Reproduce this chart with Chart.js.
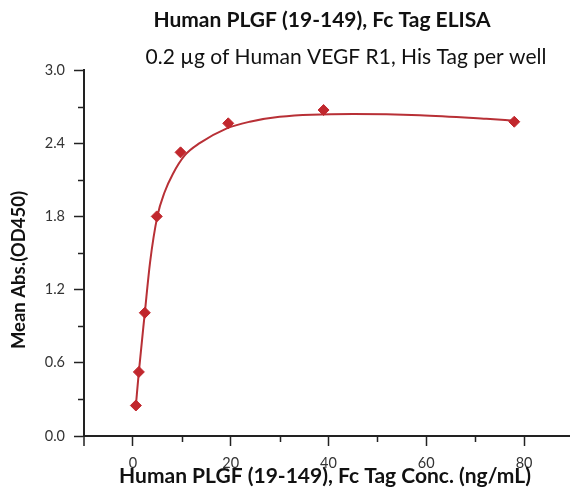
<!DOCTYPE html>
<html>
<head>
<meta charset="utf-8">
<script src="https://cdn.jsdelivr.net/npm/chart.js@4"></script>
<style>
    html, body { margin: 0; padding: 0; background: #fff; }
    #wrap { width: 570px; height: 489px; }
</style>
</head>
<body>
<div id="wrap"><canvas id="elisaChart" width="570" height="489"></canvas></div>
<script>
// Measured points (ng/mL vs OD450)
const concentrations = [0.61, 1.22, 2.44, 4.88, 9.75, 19.5, 39, 78];
const meanAbs = [0.25, 0.525, 1.01, 1.80, 2.325, 2.563, 2.672, 2.576];

// Fitted curve
const fitConc = [0.61, 1.22, 2.44, 3.5, 5.0, 6.5, 8.2, 10.6, 13.65, 19.1, 23.9, 30, 45, 58.7, 72.3, 78];
const fitAbs = [0.25, 0.525, 1.01, 1.42, 1.80, 2.0, 2.15, 2.30, 2.40, 2.52, 2.576, 2.617, 2.64, 2.63, 2.60, 2.585];

const xMajorTicks = [0, 20, 40, 60, 80];
const xMinorTicks = [10, 30, 50, 70];
const yMajorTicks = [0, 0.6, 1.2, 1.8, 2.4, 3.0];
const yMinorTicks = [0.3, 0.9, 1.5, 2.1, 2.7];

const chartTitle = 'Human PLGF (19-149), Fc Tag ELISA';
const chartSubtitle = '0.2 \u00b5g of Human VEGF R1, His Tag per well';
const xTitle = 'Human PLGF (19-149), Fc Tag Conc. (ng/mL)';
const yTitle = 'Mean Abs.(OD450)';

const red = '#c1272d';
const axisColor = '#222';
const fontFamily = 'Lato, "Open Sans", sans-serif';

// titles are placed by hand so they can overlap like the original
const textPlugin = {
    id: 'texts',
    afterDraw(chart) {
        const ctx = chart.ctx;
        ctx.save();
        ctx.fillStyle = '#111';
        ctx.textAlign = 'center';
        ctx.textBaseline = 'middle';

        ctx.font = `bold 21px ${fontFamily}`;
        ctx.fillText(chartTitle, 322, 20);

        ctx.font = `21px ${fontFamily}`;
        ctx.fillText(chartSubtitle, 346, 57);

        ctx.font = `bold 21px ${fontFamily}`;
        ctx.fillText(xTitle, 325, 476);

        ctx.font = `bold 18.5px ${fontFamily}`;
        ctx.translate(19, 270);
        ctx.rotate(-Math.PI / 2);
        ctx.fillText(yTitle, 0, 0);
        ctx.restore();
    }
};

// short minor ticks, the library only has one tick length
const minorTickPlugin = {
    id: 'minorTicks',
    afterDraw(chart) {
        const ctx = chart.ctx;
        const x = chart.scales.x;
        const y = chart.scales.y;
        const area = chart.chartArea;
        ctx.save();
        ctx.strokeStyle = axisColor;
        ctx.lineWidth = 1.5;
        ctx.beginPath();
        xMinorTicks.forEach(v => {
            const px = Math.round(x.getPixelForValue(v)) + 0.5;
            ctx.moveTo(px, area.bottom);
            ctx.lineTo(px, area.bottom + 6);
        });
        yMinorTicks.forEach(v => {
            const py = Math.round(y.getPixelForValue(v)) + 0.5;
            ctx.moveTo(area.left, py);
            ctx.lineTo(area.left - 6, py);
        });
        // little stub where the axes cross
        ctx.moveTo(area.left, area.bottom);
        ctx.lineTo(area.left, area.bottom + 10);
        ctx.stroke();
        ctx.restore();
    }
};

const ctx = document.getElementById('elisaChart').getContext('2d');
new Chart(ctx, {
    type: 'scatter',
    data: {
        datasets: [
            {
                label: 'points',
                data: concentrations.map((c, i) => ({ x: c, y: meanAbs[i] })),
                pointStyle: 'rectRot',
                pointRadius: 5.5,
                pointBackgroundColor: red,
                pointBorderColor: red,
                showLine: false,
                order: 0
            },
            {
                label: 'fit',
                data: fitConc.map((c, i) => ({ x: c, y: fitAbs[i] })),
                showLine: true,
                borderColor: '#b83036',
                borderWidth: 2,
                pointRadius: 0,
                cubicInterpolationMode: 'monotone',
                order: 1
            }
        ]
    },
    options: {
        responsive: false,
        animation: false,
        layout: {
            autoPadding: false,
            padding: { top: 70, left: 0, right: 0, bottom: 0 }
        },
        plugins: {
            legend: { display: false },
            tooltip: { enabled: false }
        },
        scales: {
            x: {
                type: 'linear',
                min: -10,
                max: 89.4,
                afterBuildTicks: (s) => { s.ticks = xMajorTicks.map(v => ({ value: v })); },
                afterFit: (s) => {
                    s.height = 53;
                    s.paddingLeft = 0;
                    s.paddingRight = 0;
                },
                border: { color: axisColor, width: 2 },
                grid: { drawOnChartArea: false, tickLength: 10, color: axisColor, tickWidth: 1.5 },
                ticks: {
                    padding: 9,
                    maxRotation: 0,
                    autoSkip: false,
                    color: '#333',
                    font: { family: fontFamily, size: 14.5 }
                }
            },
            y: {
                min: 0,
                max: 3.0,
                afterBuildTicks: (s) => { s.ticks = yMajorTicks.map(v => ({ value: v })); },
                afterFit: (s) => {
                    s.width = 84;
                    s.paddingTop = 0;
                    s.paddingBottom = 0;
                },
                border: { color: axisColor, width: 2 },
                grid: { drawOnChartArea: false, tickLength: 10, color: axisColor, tickWidth: 1.5 },
                ticks: {
                    padding: 9,
                    autoSkip: false,
                    color: '#333',
                    font: { family: fontFamily, size: 14.5 },
                    callback: (v) => v.toFixed(1)
                }
            }
        }
    },
    plugins: [minorTickPlugin, textPlugin]
});
</script>
</body>
</html>
